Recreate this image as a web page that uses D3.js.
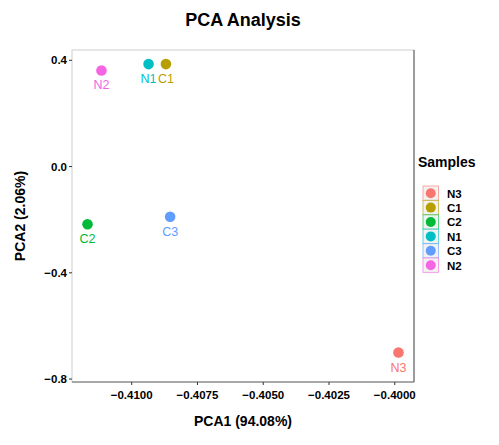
<!DOCTYPE html>
<html><head><meta charset="utf-8">
<script src="https://cdn.jsdelivr.net/npm/d3@7"></script>
<style>body{margin:0;background:#fff;} text{font-family:"Liberation Sans",Arial,sans-serif;}</style>
</head><body>
<svg id="c" width="499" height="445"></svg>
<script>
const samples = ["N3","C1","C2","N1","C3","N2"];
const pca1 = [-0.39984,-0.40868,-0.41166,-0.40934,-0.40852,-0.41113];
const pca2 = [-0.702,0.384,-0.219,0.384,-0.191,0.360];
const colors = ["#F8766D","#B79F00","#00BA38","#00BFC4","#619CFF","#F564E3"];
const xTicks = [-0.4100,-0.4075,-0.4050,-0.4025,-0.4000];
const yTicks = [0.4,0.0,-0.4,-0.8];

const svg = d3.select("#c");
const L=72, R=414, T=50, B=382;
const x = d3.scaleLinear().domain([-0.41225,-0.39925]).range([L,R]);
const y = d3.scaleLinear().domain([-0.813,0.437]).range([B,T]);
const col = d3.scaleOrdinal().domain(samples).range(colors);

svg.append("rect").attr("x",L).attr("y",T).attr("width",R-L).attr("height",B-T)
  .attr("fill","#fff").attr("stroke","#d6d6d6").attr("stroke-width",1.2);
svg.append("line").attr("x1",L).attr("x2",R).attr("y1",B).attr("y2",B).attr("stroke","#6b6b6b").attr("stroke-width",1.2);
svg.append("line").attr("x1",R).attr("x2",R).attr("y1",T).attr("y2",B).attr("stroke","#6b6b6b").attr("stroke-width",1.2);

const xa = svg.append("g").attr("transform",`translate(0,${B})`)
  .call(d3.axisBottom(x).tickValues(xTicks).tickFormat(d3.format(".4f")).tickSize(3).tickSizeOuter(0));
const ya = svg.append("g").attr("transform",`translate(${L},0)`)
  .call(d3.axisLeft(y).tickValues(yTicks).tickFormat(d3.format(".1f")).tickSize(3).tickSizeOuter(0));
[xa,ya].forEach(a=>{
  a.select(".domain").remove();
  a.selectAll(".tick line").attr("stroke","#333");
  a.selectAll(".tick text").attr("fill","#000").style("font-size","11.5px").style("font-weight","bold");
});
xa.selectAll(".tick text").attr("dy","0.95em");
ya.selectAll(".tick text").attr("dy","0.35em").attr("x",-5);

const idx = d3.range(samples.length);
svg.append("g").selectAll("circle").data(idx).join("circle")
  .attr("cx",i=>x(pca1[i])).attr("cy",i=>y(pca2[i])).attr("r",5.3)
  .attr("fill",i=>col(samples[i]));
svg.append("g").selectAll("text").data(idx).join("text")
  .attr("x",i=>x(pca1[i])).attr("y",i=>y(pca2[i])+19)
  .attr("text-anchor","middle").attr("fill",i=>col(samples[i]))
  .style("font-size","12.5px").text(i=>samples[i]);

svg.append("text").attr("x",243).attr("y",26).attr("text-anchor","middle")
  .style("font-size","18px").style("font-weight","bold").text("PCA Analysis");
svg.append("text").attr("x",243).attr("y",426).attr("text-anchor","middle")
  .style("font-size","14px").style("font-weight","bold").text("PCA1 (94.08%)");
svg.append("text").attr("transform","translate(25,216) rotate(-90)").attr("text-anchor","middle")
  .style("font-size","14px").style("font-weight","bold").text("PCA2 (2.06%)");

const lg = svg.append("g");
lg.append("text").attr("x",418).attr("y",167).style("font-size","14px").style("font-weight","bold").text("Samples");
const key = lg.selectAll("g.k").data(samples).join("g").attr("class","k")
  .attr("transform",(d,i)=>`translate(423,${186+i*14.4})`);
key.append("rect").attr("x",0).attr("y",0).attr("width",15.5).attr("height",14.4)
  .attr("fill","#f2f2f2").attr("stroke",d=>col(d)).attr("stroke-opacity",0.6).attr("stroke-width",1);
key.append("circle").attr("cx",7.75).attr("cy",7.2).attr("r",5).attr("fill",d=>col(d));
key.append("text").attr("x",24).attr("y",11.5).style("font-size","11.5px").style("font-weight","bold").text(d=>d);
</script>
</body></html>
